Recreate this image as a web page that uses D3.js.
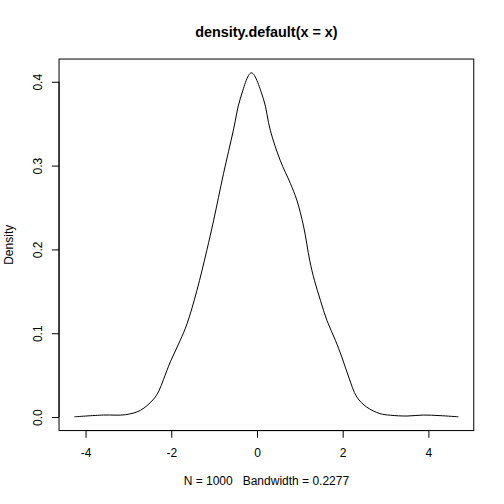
<!DOCTYPE html>
<html>
<head>
<meta charset="utf-8">
<script src="https://cdn.jsdelivr.net/npm/d3@7"></script>
<style>
  body { margin: 0; background: #fff; }
  svg { display: block; font-family: "Liberation Sans", Arial, sans-serif; }
  text { white-space: pre; }
</style>
</head>
<body>
<svg id="chart" width="504" height="504"></svg>
<script>
// density estimate
const xValues = [-4.26, -3.58, -3.07, -2.72, -2.41, -2.29, -2.18, -2.02, -1.79,
  -1.63, -1.40, -1.17, -1.01, -0.78, -0.55, -0.39, -0.13, 0.15, 0.31,
  0.54, 0.78, 0.93, 1.09, 1.23, 1.34, 1.48, 1.63, 1.83, 1.98,
  2.14, 2.33, 2.56, 2.87, 3.11, 3.50, 3.88, 4.27, 4.70];
const densityValues = [0.0003, 0.0024, 0.0028, 0.0080, 0.0215, 0.0310, 0.0450, 0.0660, 0.0916,
  0.1115, 0.1513, 0.1990, 0.2349, 0.2906, 0.3423, 0.3797, 0.4107, 0.3797, 0.3423,
  0.3065, 0.2787, 0.2588, 0.2269, 0.1871, 0.1632, 0.1394, 0.1155, 0.0916, 0.0716,
  0.0478, 0.0239, 0.0119, 0.0041, 0.0022, 0.0012, 0.0024, 0.0017, 0.0003];
const xTicks = [-4, -2, 0, 2, 4];
const yTicks = [0, 0.1, 0.2, 0.3, 0.4];
const title = "density.default(x = x)";
const xLabel = "N = 1000   Bandwidth = 0.2277";
const yLabel = "Density";

const svg = d3.select("#chart");
const W = 504, H = 504;
const lineH = 14.4;
const margin = { top: 4.1 * lineH, right: 2.1 * lineH, bottom: 5.1 * lineH, left: 4.1 * lineH };
const plotL = margin.left, plotR = W - margin.right;
const plotT = margin.top, plotB = H - margin.bottom;

// R pads each axis range by 4%
function padded(ext) {
  const r = ext[1] - ext[0];
  return [ext[0] - 0.04 * r, ext[1] + 0.04 * r];
}

const x = d3.scaleLinear().domain(padded(d3.extent(xValues))).range([plotL, plotR]);
const y = d3.scaleLinear().domain(padded(d3.extent(densityValues))).range([plotB, plotT]);

const points = xValues.map((v, i) => ({ x: v, y: densityValues[i] }));

svg.append("path")
  .datum(points)
  .attr("fill", "none")
  .attr("stroke", "#000")
  .attr("stroke-width", 1)
  .attr("d", d3.line().x(d => x(d.x)).y(d => y(d.y)).curve(d3.curveCatmullRom.alpha(0.5)));

// box
svg.append("rect")
  .attr("x", plotL).attr("y", plotT)
  .attr("width", plotR - plotL).attr("height", plotB - plotT)
  .attr("fill", "none").attr("stroke", "#000");

// x axis
const xAxis = svg.append("g")
  .attr("transform", `translate(0,${plotB})`)
  .call(d3.axisBottom(x).tickValues(xTicks).tickSize(7.2).tickPadding(0).tickFormat(d3.format("d")));
xAxis.select(".domain")
  .attr("d", `M${x(xTicks[0])},0H${x(xTicks[xTicks.length - 1])}`);
xAxis.selectAll(".tick text")
  .attr("y", 0).attr("dy", null)
  .attr("transform", "translate(0,26)")
  .attr("font-size", 12).attr("fill", "#000")
  .text(d => d < 0 ? "-" + Math.abs(d) : d);

// y axis
const yAxis = svg.append("g")
  .attr("transform", `translate(${plotL},0)`)
  .call(d3.axisLeft(y).tickValues(yTicks).tickSize(7.2).tickPadding(0).tickFormat(d3.format(".1f")));
yAxis.select(".domain")
  .attr("d", `M0,${y(yTicks[0])}V${y(yTicks[yTicks.length - 1])}`);
yAxis.selectAll(".tick text")
  .attr("x", 0).attr("dy", null)
  .attr("text-anchor", "middle")
  .attr("transform", `translate(${42 - plotL},0) rotate(-90)`)
  .attr("font-size", 12).attr("fill", "#000");

svg.selectAll(".domain, .tick line").attr("stroke", "#000");

svg.append("text")
  .attr("x", (plotL + plotR) / 2).attr("y", 37)
  .attr("text-anchor", "middle")
  .attr("font-size", 14.4).attr("font-weight", "bold")
  .text(title);

svg.append("text")
  .attr("x", (plotL + plotR) / 2).attr("y", 484.5)
  .attr("text-anchor", "middle")
  .attr("font-size", 12)
  .text(xLabel);

svg.append("text")
  .attr("transform", `translate(13,${(plotT + plotB) / 2}) rotate(-90)`)
  .attr("text-anchor", "middle")
  .attr("font-size", 12)
  .text(yLabel);
</script>
</body>
</html>
